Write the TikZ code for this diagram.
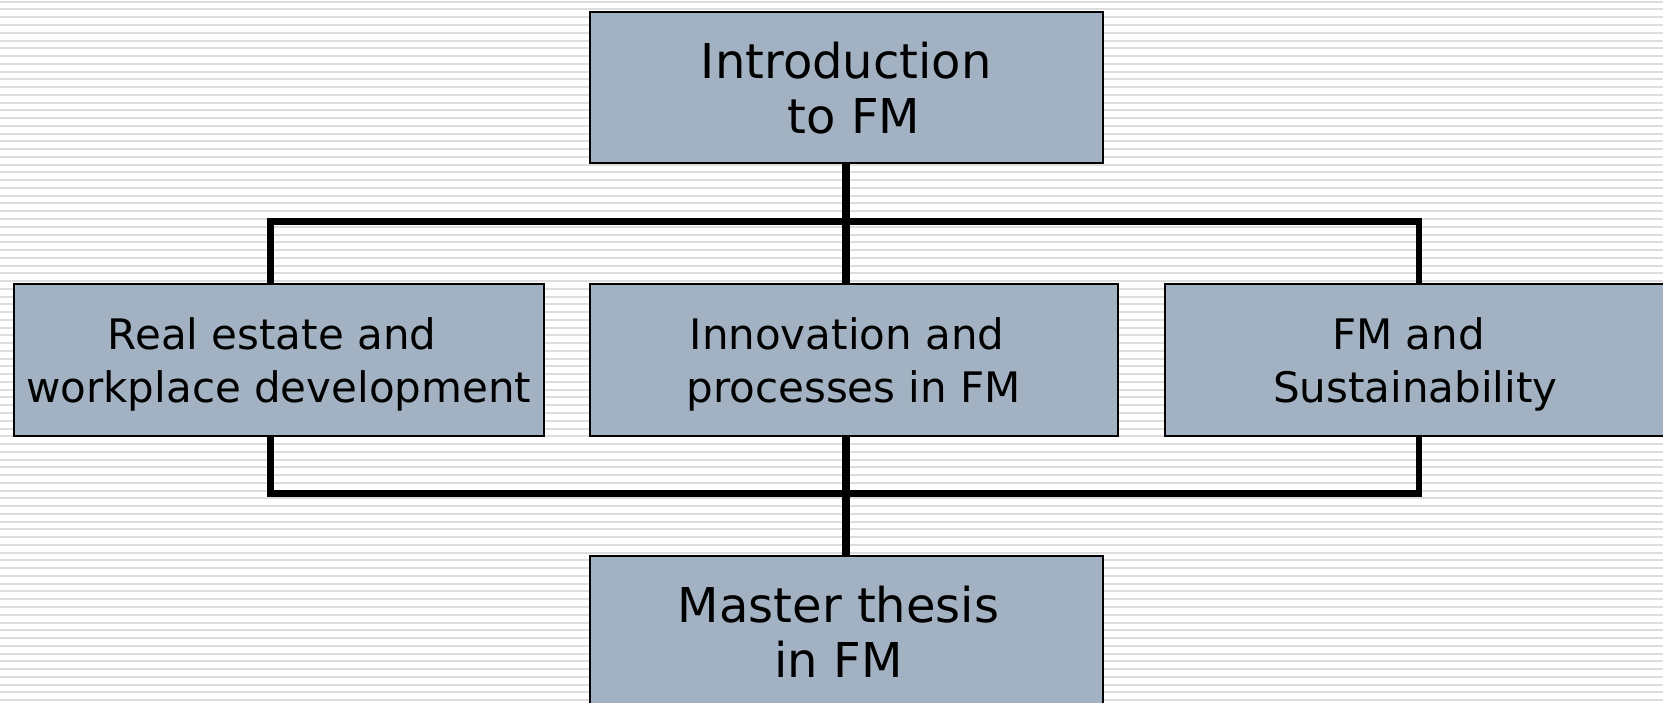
\documentclass[tikz,border=0pt]{standalone}
\usepackage{fontspec}
\setmainfont{DejaVu Sans}
\usetikzlibrary{calc}
\definecolor{boxfill}{RGB}{162,178,194}
\definecolor{bgline}{RGB}{221,221,221}
\begin{document}
\begin{tikzpicture}[x=0.5pt,y=-0.5pt,
  box/.style={draw=black,line width=1pt,fill=boxfill,inner sep=0pt,anchor=north west,align=center,text depth=0pt,minimum height=75.85pt},
  bigtxt/.style={font=\fontsize{24}{27.5}\selectfont},
  midtxt/.style={font=\fontsize{21}{26.3}\selectfont},
  conn/.style={line width=3.4pt,line join=miter,draw=black},
  trunk/.style={conn,line width=3.9pt}]
\useasboundingbox (0,0) rectangle (1663,702);
\fill[white] (0,0) rectangle (1663,702);
\clip (0,0) rectangle (1663,702);
\foreach \i in {0,...,91} \fill[bgline] (0,{0.7+7.76*\i}) rectangle (1663,{2.7+7.76*\i});
% boxes
\node[box,bigtxt,minimum width=256.7pt] (T) at (588.6,10.6) {Introduction\\\hspace*{0.32em}to FM};
\node[box,midtxt,minimum width=265.15pt] (L) at (12.7,283.2) {Real estate and\hspace*{0.32em}\\workplace development};
\node[box,midtxt,minimum width=264.1pt] (M) at (588.6,283.2) {Innovation and\hspace*{0.32em}\\processes in FM};
\node[box,midtxt,minimum width=250.75pt] (R) at (1163.5,283.2) {FM and\hspace*{0.32em}\\Sustainability};
\node[box,bigtxt,minimum width=256.7pt] (B) at (588.6,554.7) {Master thesis\hspace*{0.32em}\\in FM\hspace*{0.32em}};
% connectors
\coordinate (cl) at (270.5,221.7);
\coordinate (cr) at (1419,221.7);
\coordinate (dl) at (270.5,493.2);
\coordinate (dr) at (1419,493.2);
\draw[conn] (cl |- L.north) -- (cl) -- (cr) -- (cr |- R.north);
\draw[conn] (dl |- L.south) -- (dl) -- (dr) -- (dr |- R.south);
\draw[trunk] (T.south) -- (T.south |- M.north);
\draw[trunk] (T.south |- M.south) -- (T.south |- B.north);
\end{tikzpicture}
\end{document}
